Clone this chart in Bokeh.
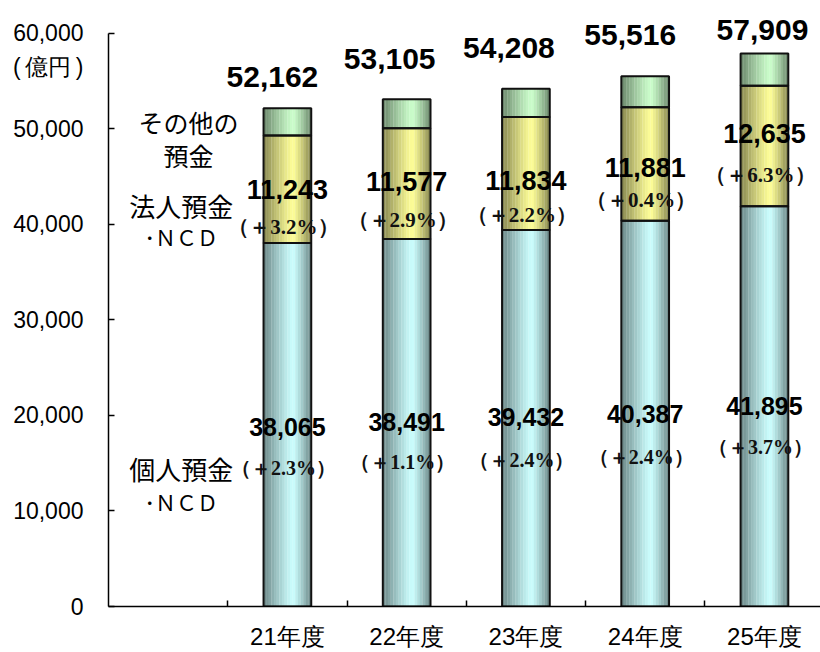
import numpy as np
from bokeh.plotting import figure
from bokeh.models import ColumnDataSource, FixedTicker
from bokeh.core.properties import value
from bokeh.embed import file_html
from bokeh.resources import INLINE

# ---- data ----
years = ["21年度", "22年度", "23年度", "24年度", "25年度"]
kojin = [38065, 38491, 39432, 40387, 41895]          # 個人預金・NCD
hojin = [11243, 11577, 11834, 11881, 12635]          # 法人預金・NCD
total = [52162, 53105, 54208, 55516, 57909]          # 合計
kojin_pct = [2.3, 1.1, 2.4, 2.4, 3.7]
hojin_pct = [3.2, 2.9, 2.2, 0.4, 6.3]
other = [t - a - b for t, a, b in zip(total, kojin, hojin)]  # その他の預金
y_ticks = [0, 10000, 20000, 30000, 40000, 50000, 60000]
unit_text = "(\u2009億円\u2009)"

# ---- layout / style ----
W, H = 820, 652
BAR_W = 0.4
NSTRIP = 18
UNIT_POS = 56450
centers = [i + 1.5 for i in range(len(years))]

p = figure(width=W, height=H, output_backend="svg", toolbar_location=None,
           x_range=(0, 5.97), y_range=(0, 62404),
           min_border_left=108, min_border_right=0, min_border_top=10, min_border_bottom=45)
p.outline_line_color = None
p.xgrid.visible = False
p.ygrid.visible = False
p.background_fill_color = "white"
p.border_fill_color = "white"

# y axis (tick marks drawn as inward minor ticks; the unit sits as an extra label)
ya = p.yaxis[0]
ya.ticker = FixedTicker(ticks=y_ticks + [UNIT_POS], minor_ticks=y_ticks)
fmt = {t: f"{t:,}" for t in y_ticks}
fmt[UNIT_POS] = unit_text
ya.major_label_overrides = fmt
ya.bounds = (0, 60000)
ya.major_tick_in = 0
ya.major_tick_out = 0
ya.minor_tick_in = 6
ya.minor_tick_out = 0
ya.minor_tick_line_width = 1.5
ya.major_label_standoff = 25
ya.major_label_text_font = "Liberation Sans"
ya.major_label_text_font_size = "23px"
ya.major_label_text_color = "black"
ya.axis_line_width = 1.5

# x axis
xa = p.xaxis[0]
xa.ticker = FixedTicker(ticks=centers, minor_ticks=[1, 2, 3, 4, 5, 6])
xa.major_label_overrides = {c: y for c, y in zip(centers, years)}
xa.major_tick_in = 0
xa.major_tick_out = 0
xa.minor_tick_in = 6
xa.minor_tick_out = 0
xa.minor_tick_line_width = 1.5
xa.axis_line_width = 1.5
xa.major_label_standoff = 16
xa.major_label_text_font = "Liberation Sans"
xa.major_label_text_font_size = "24px"
xa.major_label_text_color = "black"

# ---- gradient bars drawn as vertical strips ----
bases = {
    "blue": (204, 255, 255),
    "yellow": (255, 255, 153),
    "green": (204, 255, 204),
}

def shade(t):
    peak = 0.62
    if t < peak:
        d = (peak - t) / peak
    else:
        d = (t - peak) / (1 - peak)
    return 0.52 + 0.48 * (1 - d ** 1.2)

def to_hex(rgb, f):
    return "#%02x%02x%02x" % tuple(int(max(0, min(255, c * f))) for c in rgb)

segments = [
    ("blue", [0] * len(years), kojin),
    ("yellow", kojin, [a + b for a, b in zip(kojin, hojin)]),
    ("green", [a + b for a, b in zip(kojin, hojin)], total),
]

sx, sb, st, sc = [], [], [], []
ox, ob, ot = [], [], []
sw = BAR_W / NSTRIP
for name, bots, tops in segments:
    for c, b, t in zip(centers, bots, tops):
        for k in range(NSTRIP):
            tt = (k + 0.5) / NSTRIP
            sx.append(c - BAR_W / 2 + tt * BAR_W)
            sb.append(b)
            st.append(t)
            sc.append(to_hex(bases[name], shade(tt)))
        ox.append(c)
        ob.append(b)
        ot.append(t)

p.vbar(x="x", bottom="b", top="t", width=sw * 1.08, fill_color="c", line_color=None,
       source=ColumnDataSource(dict(x=sx, b=sb, t=st, c=sc)))
p.vbar(x="x", bottom="b", top="t", width=BAR_W, fill_alpha=0, line_color="#111111",
       line_width=2, source=ColumnDataSource(dict(x=ox, b=ob, t=ot)))

# ---- value labels ----
num_font = value("Liberation Sans")
pct_font = value("Liberation Serif")

tot_dx = [-15, -17, -17, -15, -2]
tot_dy = [-31, -40, -41, -41, -23]
p.text(x=centers, y=total, text=[f"{v:,}" for v in total], x_offset=tot_dx, y_offset=tot_dy,
       text_font=num_font, text_font_style="bold", text_font_size="30px",
       text_align="center", text_baseline="middle", text_color="black")

hmid = [a + b / 2 for a, b in zip(kojin, hojin)]
h_dy = [0, -2, 7, 3, -13]
h_pdy = [38, 38, 35, 33, 42]
p.text(x=centers, y=hmid, text=[f"{v:,}" for v in hojin], y_offset=h_dy,
       text_font=num_font, text_font_style="bold", text_font_size="27px",
       text_align="center", text_baseline="middle", text_color="black")
p.text(x=centers, y=hmid, text=[f"（＋{v:.1f}%）" for v in hojin_pct],
       x_offset=[-4] * 5, y_offset=[a + b for a, b in zip(h_dy, h_pdy)],
       text_font=pct_font, text_font_style="bold", text_font_size="21px",
       text_align="center", text_baseline="middle", text_color="#111111")

kmid = [a / 2 for a in kojin]
k_dy = [2, -1, -1, 0, 0]
k_pdy = [41, 40, 43, 43, 41]
p.text(x=centers, y=kmid, text=[f"{v:,}" for v in kojin], y_offset=k_dy,
       text_font=num_font, text_font_style="bold", text_font_size="25px",
       text_align="center", text_baseline="middle", text_color="black")
p.text(x=centers, y=kmid, text=[f"（＋{v:.1f}%）" for v in kojin_pct],
       x_offset=[-4] * 5, y_offset=[a + b for a, b in zip(k_dy, k_pdy)],
       text_font=pct_font, text_font_style="bold", text_font_size="20px",
       text_align="center", text_baseline="middle", text_color="#111111")

# ---- series names in the empty first category ----
series_lbl_text = ["その他の", "預金", "法人預金", "･ＮＣＤ", "個人預金", "･ＮＣＤ"]
series_lbl_x = [0.67, 0.67, 0.61, 0.61, 0.61, 0.61]
series_lbl_y = [50700, 47250, 42000, 38700, 14500, 10900]
series_lbl_size = ["25px", "25px", "26px", "21px", "26px", "21px"]
src_lbl = ColumnDataSource(dict(x=series_lbl_x, y=series_lbl_y, t=series_lbl_text, s=series_lbl_size))
p.text(x="x", y="y", text="t", text_font_size="s", source=src_lbl,
       text_font=value("Noto Sans CJK JP"), text_align="center", text_baseline="middle",
       text_color="black")

open("out.html", "w").write(file_html(p, INLINE))
